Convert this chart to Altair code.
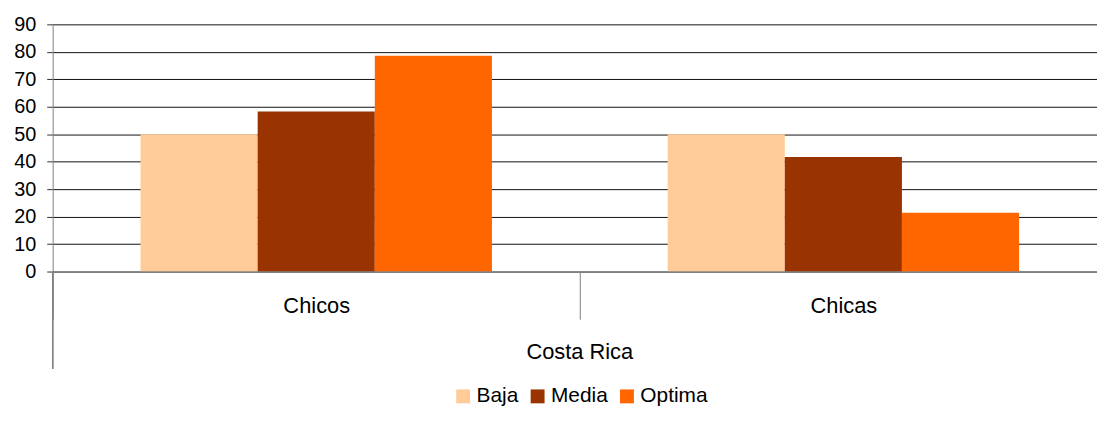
import altair as alt
import pandas as pd

groups = ["Chicos", "Chicas"]
series = ["Baja", "Media", "Optima"]
chicos = [50, 58.3, 78.6]
chicas = [50, 41.7, 21.4]
colors = ["#FFCC99", "#993300", "#FF6600"]
y_ticks = [0, 10, 20, 30, 40, 50, 60, 70, 80, 90]
outer_label = "Costa Rica"

rows = []
for g, vals in zip(groups, [chicos, chicas]):
    for s, v in zip(series, vals):
        rows.append({"grupo": g, "serie": s, "valor": v})
df = pd.DataFrame(rows)

FONT = "Liberation Sans"
W, H = 1052, 249
STEP = 531

bars = alt.Chart(df).mark_bar(stroke=None).encode(
    x=alt.X("grupo:N", sort=groups,
            scale=alt.Scale(range=[0, 2 * STEP], paddingInner=0, paddingOuter=0),
            axis=alt.Axis(title=None, tickBand="extent", tickSize=48, tickColor="#808080",
                          domainColor="#808080", labelFontSize=22, labelFont=FONT,
                          labelColor="black", labelAngle=0, labelBaseline="middle",
                          labelPadding=-14, zindex=1)),
    xOffset=alt.XOffset("serie:N", sort=series,
                        scale=alt.Scale(paddingInner=0, paddingOuter=0.75)),
    y=alt.Y("valor:Q", scale=alt.Scale(domain=[0, 90], nice=False),
            axis=alt.Axis(title=None, values=y_ticks, grid=True, gridColor="#111",
                          gridWidth=1, tickColor="#333", tickSize=6,
                          domainColor="#808080", labelFontSize=20, labelFont=FONT,
                          labelColor="black", labelPadding=11)),
    color=alt.Color("serie:N", sort=series,
                    scale=alt.Scale(domain=series, range=colors),
                    legend=alt.Legend(orient="none", legendX=403, legendY=364,
                                      direction="horizontal", symbolType="square",
                                      symbolSize=196, symbolStrokeWidth=0,
                                      labelFontSize=21, labelFont=FONT,
                                      labelColor="black", title=None, padding=0,
                                      columnPadding=8, labelOffset=3)),
)

ext = alt.Chart(df).mark_rule(color="#808080").encode(
    x=alt.value(0), y=alt.value(H), y2=alt.value(H + 98)
)

outer = alt.Chart(pd.DataFrame({"t": [outer_label]})).mark_text(
    font=FONT, fontSize=22, color="black", baseline="middle", align="center"
).encode(text="t:N", x=alt.value(STEP), y=alt.value(H + 81))

chart = alt.layer(bars, ext, outer).properties(
    width=W, height=H,
    padding={"left": 45, "top": 15, "right": 0, "bottom": 139},
    autosize=alt.AutoSizeParams(type="none"),
).configure_view(stroke=None)

chart.save("out.html", embed_options={"renderer": "svg", "actions": False})
